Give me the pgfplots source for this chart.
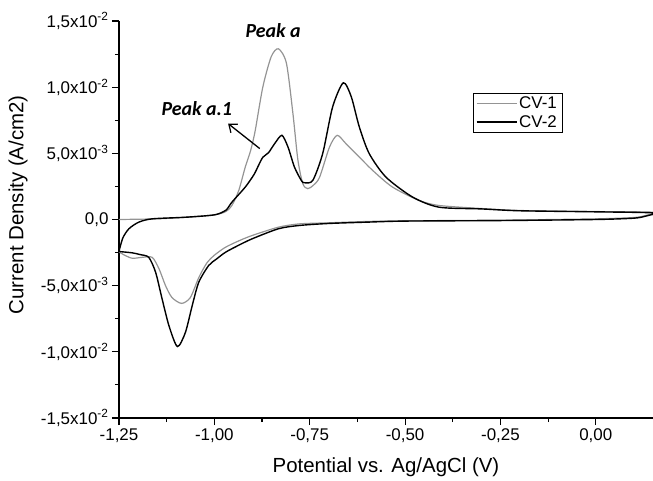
\documentclass[border=0pt]{standalone}
\usepackage{pgfplots}
\pgfplotsset{compat=1.18}
\usetikzlibrary{arrows.meta}
\usepackage{fontspec}
\setmainfont{Liberation Sans}
\newfontfamily\calfont{Carlito}
\definecolor{cvgray}{gray}{0.58}
\begin{document}
\begin{tikzpicture}
\begin{axis}[
  at={(0,0)}, anchor=south west,
  scale only axis, width=534bp, height=397bp,
  xmin=-1.25, xmax=0.15, ymin=-0.015, ymax=0.015,
  axis x line*=bottom, axis y line*=left,
  axis line style={-, line width=1.1bp},
  tick align=outside, tick style={black, line width=1.1bp},
  major tick length=7bp, minor tick length=4bp,
  xtick={-1.25,-1,-0.75,-0.5,-0.25,0},
  xticklabels={{-1,25},{-1,00},{-0,75},{-0,50},{-0,25},{0,00}},
  minor x tick num=1,
  ytick={-0.015,-0.01,-0.005,0,0.005,0.01,0.015},
  yticklabels={{-1,5x10\textsuperscript{-2}},{-1,0x10\textsuperscript{-2}},{-5,0x10\textsuperscript{-3}},{0,0},{5,0x10\textsuperscript{-3}},{1,0x10\textsuperscript{-2}},{1,5x10\textsuperscript{-2}}},
  minor y tick num=1,
  scaled y ticks=false, scaled x ticks=false,
  tick label style={font=\fontsize{17}{20}\selectfont},
  xlabel={Potential vs. Ag/AgCl (V)},
  ylabel={Current Density (A/cm2)},
  label style={font=\fontsize{20.5}{24}\selectfont},
  xlabel style={at={(axis description cs:0.5,-0.123)}, anchor=center},
  ylabel style={at={(axis description cs:-0.189,0.537)}, anchor=center},
  legend style={at={(axis description cs:0.662,0.819)}, anchor=north west,
    draw=black, line width=0.6bp, font=\fontsize{17}{20}\selectfont,
    inner xsep=3bp, inner ysep=2bp, row sep=1bp, cells={anchor=west}},
  legend cell align=left,
  legend image code/.code={\draw[#1] (0bp,0bp) -- (40bp,0bp);},
]
\addplot[cvgray, line width=1.2bp, smooth, tension=0.45] coordinates {
(-1.25,0) (-1.15,0.00005) (-1.076,0.00017) (-1.0,0.00035) (-0.97,0.0006) (-0.954,0.00106)
(-0.936,0.0022) (-0.919,0.00396) (-0.905,0.0052) (-0.893,0.0067) (-0.873,0.0100) (-0.851,0.0123)
(-0.832,0.0129) (-0.811,0.0118) (-0.794,0.0080) (-0.781,0.0045) (-0.768,0.0027) (-0.755,0.00233)
(-0.74,0.0026) (-0.724,0.0032) (-0.698,0.00548) (-0.678,0.00636) (-0.655,0.00573) (-0.62,0.00472)
(-0.585,0.00371) (-0.533,0.00245) (-0.463,0.00144) (-0.411,0.00106) (-0.3,0.00083) (-0.2,0.00068)
(0,0.0006) (0.15,0.00055)
(0.13,0.0003) (0.1,0.00015) (0,0.00005) (-0.25,-0.00005) (-0.5,-0.0001) (-0.6,-0.00015)
(-0.7,-0.00025) (-0.777,-0.00033) (-0.832,-0.00058) (-0.901,-0.00121) (-0.934,-0.00159)
(-0.971,-0.0021) (-1.0,-0.0027) (-1.02,-0.0033) (-1.041,-0.0044) (-1.063,-0.0059) (-1.086,-0.00634)
(-1.111,-0.0059) (-1.128,-0.0050) (-1.145,-0.00373) (-1.163,-0.00286) (-1.189,-0.00286)
(-1.215,-0.00293) (-1.235,-0.0027) (-1.25,-0.00245)
};
\addlegendentry{CV-1}
\addplot[black, line width=1.4bp, smooth, tension=0.45] coordinates {
(-1.25,-0.0024) (-1.24,-0.0014) (-1.224,-0.0007) (-1.198,-0.0002) (-1.163,0.00005) (-1.076,0.00017)
(-1.0,0.00035) (-0.97,0.0007) (-0.954,0.00131) (-0.919,0.00245) (-0.896,0.0034) (-0.884,0.0041)
(-0.873,0.0047) (-0.858,0.00505) (-0.842,0.00573) (-0.823,0.00636) (-0.807,0.00548) (-0.79,0.00396)
(-0.772,0.00295) (-0.764,0.00278) (-0.742,0.00295) (-0.716,0.00498) (-0.69,0.0085) (-0.662,0.01033)
(-0.641,0.00927) (-0.62,0.0070) (-0.594,0.00498) (-0.55,0.0032) (-0.48,0.00169) (-0.411,0.00093)
(-0.3,0.0008) (-0.2,0.00066) (0,0.00058) (0.15,0.0005)
(0.13,0.00025) (0.1,0.0001) (0,0.0) (-0.25,-0.00008) (-0.5,-0.00012) (-0.6,-0.0002) (-0.7,-0.0003)
(-0.777,-0.00045) (-0.832,-0.0007) (-0.901,-0.00146) (-0.94,-0.002) (-0.971,-0.00248) (-0.995,-0.003)
(-1.015,-0.00348) (-1.041,-0.00475) (-1.058,-0.0065) (-1.076,-0.00854) (-1.097,-0.0096)
(-1.119,-0.00803) (-1.137,-0.0060) (-1.154,-0.00399) (-1.172,-0.00286) (-1.195,-0.00265)
(-1.215,-0.00252) (-1.25,-0.00242)
};
\addlegendentry{CV-2}
\node[font=\calfont\bfseries\itshape\fontsize{20}{22}\selectfont] at (axis cs:-0.846,0.01424) {Peak a};
\node[font=\calfont\bfseries\itshape\fontsize{20}{22}\selectfont] at (axis cs:-1.046,0.00837) {Peak a.1};
\draw[-{Straight Barb[length=7bp,width=11bp,line width=1.2bp]}, line width=1.3bp] (axis cs:-0.881,0.00536) -- (axis cs:-0.964,0.00725);
\end{axis}
\pgfresetboundingbox
\path[use as bounding box] (-119bp,-63bp) rectangle (534bp,418bp);
\end{tikzpicture}
\end{document}
